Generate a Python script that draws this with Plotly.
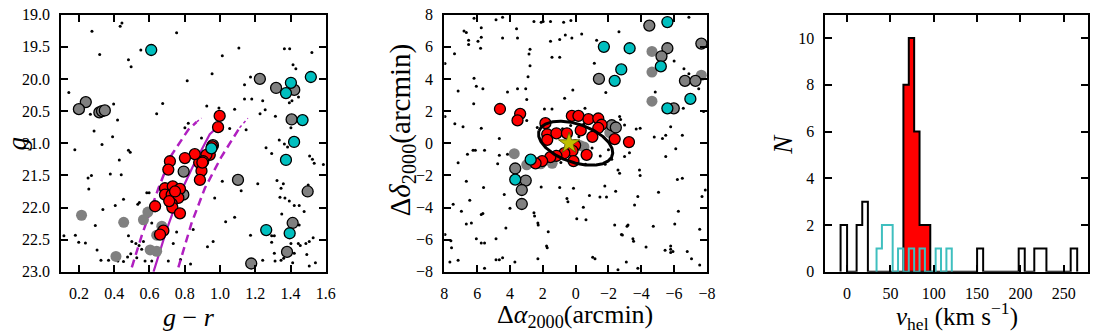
import numpy as np
import plotly.graph_objects as go

FONT = "Liberation Serif"
RED = "#ff0000"
CYAN = "#00bfbf"
GRAY = "#808080"
PURPLE = "#b01fc0"

# ---------------- Panel 1: colour-magnitude diagram ----------------
cmd_red_gr = [0.998, 0.989, 0.955, 0.942, 0.923, 0.905, 0.882, 0.857, 0.801, 0.716, 0.707, 0.895, 0.886,
              0.688, 0.732, 0.773, 0.688, 0.726, 0.764, 0.726, 0.730, 0.773, 0.632, 0.679, 0.660, 0.900,
              0.745, 0.712]
cmd_red_g = [20.575, 20.75, 21.05, 21.18, 21.18, 21.28, 21.30, 21.17, 21.23, 21.28, 21.41, 21.43, 21.57,
             21.70, 21.67, 21.71, 21.80, 21.80, 21.85, 21.94, 22.00, 22.09, 21.98, 22.36, 22.42, 21.30,
             21.75, 21.90]

cmd_cyan_gr = [0.610, 1.515, 1.402, 1.374, 1.468, 1.420, 1.374, 0.951, 1.262, 1.395]
cmd_cyan_g = [19.55, 19.97, 20.06, 20.22, 20.64, 20.98, 21.26, 21.08, 22.35, 22.40]

cmd_gray_gr = [1.226, 1.318, 1.421, 0.239, 0.200, 0.316, 0.331, 0.347, 1.406, 0.794, 1.102, 1.497,
               1.412, 1.380, 1.177, 0.792, 0.960]
cmd_gray_g = [20.00, 20.14, 20.17, 20.36, 20.47, 20.52, 20.50, 20.49, 20.63, 21.44, 21.57, 21.75,
              22.24, 22.69, 22.87, 21.80, 21.03]

cmd_faint_gr = [0.215, 0.454, 0.566, 0.591, 0.410, 0.604, 0.641, 0.670, 0.641]
cmd_faint_g = [22.12, 22.23, 22.19, 22.07, 22.76, 22.66, 22.68, 22.29, 22.43]

cmd_dot_gr = [0.444, 0.434, 0.274, 0.754, 0.551, 0.318, 1.013, 1.107, 1.365, 1.395, 1.521, 0.481, 0.496,
              0.955, 0.814, 0.143, 1.139, 1.173, 1.414, 1.430, 1.139, 1.180, 1.242, 0.675, 0.397, 0.265,
              0.419, 0.641, 0.925, 0.994, 1.083, 1.227, 1.256, 1.314, 1.393, 1.408, 1.445, 0.286, 0.391,
              0.331, 0.820, 0.801, 1.055, 1.148, 0.895, 1.261, 1.336, 1.365, 1.383, 1.402, 1.415,
              0.177, 0.481, 0.491, 0.252, 0.271, 0.429, 0.378, 0.440, 0.256, 0.336, 0.406, 0.453, 0.534,
              0.543, 0.585, 0.598, 0.293, 0.199, 0.237, 0.180, 0.115, 0.303, 0.325, 0.368, 0.421, 0.453,
              0.476, 0.481, 0.500, 0.523, 0.541, 0.566, 0.556, 0.494, 0.528, 0.575, 0.613, 0.613, 0.613,
              0.735, 0.754, 0.707, 0.776, 0.833, 0.848, 0.929, 0.961, 1.013, 0.970, 1.032, 1.083, 1.120,
              1.214, 1.173, 1.242, 1.256, 1.293, 1.308, 1.312, 1.346, 1.361, 1.346, 1.359, 1.293, 1.323,
              1.340, 1.368, 1.421, 1.449, 1.477, 1.500, 1.508, 1.524, 1.534, 1.393, 1.350, 1.449, 1.455,
              1.444, 1.487, 1.506, 1.528, 1.541, 1.506, 1.492, 1.402, 1.293, 1.308, 1.421, 1.412, 1.586]
cmd_dot_g = [19.13, 19.18, 19.26, 19.28, 19.55, 19.62, 19.64, 19.52, 19.53, 19.53, 19.59, 19.70, 19.81,
             19.92, 20.03, 20.21, 20.09, 19.97, 19.78, 19.84, 20.31, 20.31, 20.34, 20.38, 20.39, 20.55,
             20.64, 20.54, 20.42, 20.45, 20.47, 20.54, 20.48, 20.58, 20.37, 20.34, 20.28, 20.81, 20.90,
             21.02, 20.69, 20.76, 20.77, 20.79, 20.92, 21.07, 20.95, 21.01, 21.06, 20.76, 20.91,
             21.10, 21.11, 21.14, 21.54, 21.50, 21.26, 21.48, 21.49, 21.71, 22.03, 21.97, 21.87, 21.95,
             21.92, 21.77, 21.77, 22.28, 22.54, 22.55, 22.43, 22.44, 22.66, 22.82, 22.82, 22.83, 22.84,
             22.77, 22.44, 22.53, 22.56, 22.59, 22.53, 22.65, 22.72, 22.78, 22.83, 22.83, 22.24, 22.07,
             22.56, 22.38, 22.83, 22.81, 22.88, 22.34, 22.61, 22.53, 21.59, 21.85, 22.22, 22.15, 21.74,
             21.63, 22.43, 22.82, 22.32, 22.54, 22.71, 22.83, 22.82, 22.79, 21.70, 21.63, 21.16, 21.58,
             21.84, 21.85, 21.97, 21.97, 22.06, 21.65, 21.20, 21.25, 21.31, 21.90, 22.10, 22.27, 22.59,
             22.56, 22.56, 22.53, 22.47, 22.86, 22.91, 22.73, 22.56, 22.44, 22.44, 22.71, 22.86, 21.33]

# isochrone and its selection window
iso_gr = [0.623, 0.698, 0.764, 0.848, 0.942, 0.970]
iso_g = [23.0, 22.34, 21.84, 21.35, 20.86, 20.79]
win_lo_gr = [0.500, 0.557, 0.651, 0.726, 0.820, 0.867]
win_lo_g = [22.93, 22.43, 21.70, 21.18, 20.79, 20.67]
win_lo_tip_gr = [0.867, 0.895]
win_lo_tip_g = [20.67, 20.61]
win_hi_gr = [0.764, 0.839, 0.914, 1.008, 1.111]
win_hi_g = [22.93, 22.24, 21.70, 21.21, 20.76]
win_hi_tip_gr = [1.111, 1.158]
win_hi_tip_g = [20.76, 20.61]

# ---------------- Panel 2: spatial distribution ----------------
sky_red_dx = [4.61, 3.38, 3.54, 1.84, 1.73, 1.73, 1.17, 0.53, 0.23, -0.17, -0.78, -1.38, -1.58, -1.38,
              -0.31, -1.02, -2.38, -3.25, 0.03, 0.19, 0.69, 1.17, 1.54, 2.04, 2.44, 0.13, -0.67]
sky_red_dy = [2.13, 1.83, 1.42, 1.25, 0.56, 0.21, 0.62, 0.62, 1.70, 1.70, 1.50, 1.54, 1.15, 0.95,
              0.80, 0.40, 0.26, 0.07, -0.13, -0.47, -0.62, -0.78, -0.86, -1.11, -1.25, -1.11, -0.72]

sky_cyan_dx = [-5.59, -1.72, -3.29, -2.78, -2.38, -5.19, -5.59, -6.99, 2.74, 3.68]
sky_cyan_dy = [7.54, 6.00, 5.91, 4.59, 3.88, 4.78, 2.17, 2.76, -1.02, -2.26]

sky_gray_dx = [-4.49, -5.59, -5.23, -7.66, -1.42, -6.66, -7.30, -5.98, 3.68, 3.04, 3.28, 3.28, -2.20, -2.45]
sky_gray_dy = [7.32, 5.91, 5.41, 6.20, 4.00, 3.88, 3.88, 2.17, -1.57, -2.32, -2.91, -3.78, 1.12, 0.98]

sky_faint_dx = [-4.65, -4.65, -4.65, -7.66, 3.74, 2.98, 2.13, 1.43, -0.26, -0.51, -2.08]
sky_faint_dy = [5.71, 4.43, 2.62, 4.23, -0.65, -1.34, -1.28, -1.25, -0.14, -0.23, 0.66]

sky_dot_dx = [6.19, 4.45, 4.85, 2.54, 2.10, 1.98, 1.53, 0.73, 0.29, 5.75, 3.60, 6.80, 6.66, -2.64, -6.90,
              6.52, 6.52, 5.95, 5.75, 4.45, 3.54, 5.79, 1.53, 0.97, 0.63, 0.23, -0.37, -1.28, 7.38, 7.96,
              2.78, 2.84, 1.44, 0.97, 2.78, 2.90, 6.19, 5.65, 6.05, 7.16, 4.15, 3.54, 3.04, 2.98, 6.21,
              0.17, 0.67, -1.14, -1.84, -2.64, -5.13, -6.00, -6.60, -6.90, -7.50, -4.85, -6.10, -6.56,
              -7.80, 7.96, 7.36, 6.86, 5.75, 4.65, 2.98, 2.34, 1.90, 1.44, -0.57, -2.68, -2.74, -2.98,
              -3.69, -3.93, -4.79, -5.29, -5.49, -5.79, -6.50,
              6.59, 6.25, 6.11, 5.55, 4.65, 4.15, 7.16, 4.75, 6.66, 5.61, 6.45, 7.46, 6.96, 5.75, 5.65,
              6.66, 6.35, 4.35, 4.00, 4.25, 4.85, 6.05, 5.75, 5.55, 7.60, 7.96, 7.56, 7.66, 7.16, 5.55,
              4.85, 4.65, 4.45, 3.70, 2.54, 2.50, 2.30, 2.28, 1.67, 1.77, 1.73, 2.30, 2.10, 0.97, 0.53,
              0.47, 0.13, -0.07, -0.47, -0.63, -0.84, -1.48, -1.88, -1.78, -2.44, -2.58, -2.68, -2.98,
              -3.28, -3.89, -3.93, -3.79, -3.59, -3.19, -3.13, -2.79, -2.85, -2.38, -3.49, -3.53, -4.29,
              -4.73, -5.05, -5.45, -5.79, -5.79, -5.93, -5.79, -5.49, -6.10, -6.20, -6.50, -6.26, -6.04,
              -6.80, -7.06, -7.56, -7.70, -7.90, -2.58, -3.79, -3.09, -1.18, -1.04, -7.56,
              0.80, -0.50, -1.00, -1.50, -2.00, 0.50, 1.20, -0.20, -2.20, -1.80, 0.90, -0.60, 1.60,
              -2.50, -1.20, 0.30]
sky_dot_dy = [7.78, 7.83, 7.68, 7.58, 7.52, 7.58, 7.58, 7.52, 7.64, 7.19, 7.13, 6.99, 6.89, 6.93, 7.83,
              6.40, 6.14, 6.34, 6.59, 6.54, 6.54, 5.91, 6.34, 6.46, 6.73, 6.54, 6.79, 6.40, 5.57, 4.96,
              5.85, 5.55, 5.35, 5.35, 4.82, 4.13, 4.04, 3.39, 3.54, 3.25, 3.19, 3.39, 3.39, 2.72, 2.46,
              3.31, 2.80, 4.98, 3.15, 4.63, 5.41, 5.12, 4.63, 4.33, 3.39, 3.19, 2.26, 2.17,
              1.97, 1.67, 1.22, 1.02, 0.94, 0.30, 1.42, 0.98, 2.13, 2.13, 2.17, 1.67, 1.48, 1.14,
              0.89, 0.94, 0.39, 0.30, 0.49, 1.02, 0.49,
              -0.69, -0.43, -0.43, -0.43, -0.75, -0.69, -1.22, -1.28, -2.36, -2.76, -3.54, -3.80, -4.23,
              -4.43, -4.37, -5.02, -4.96, -3.19, -4.04, -5.28, -5.94, -5.94, -6.20, -6.20, -6.06, -5.67,
              -6.50, -7.38, -7.28, -7.78, -7.24, -7.24, -7.13, -7.38, -4.33, -4.53, -4.96, -5.08, -5.51,
              -6.40, -6.50, -7.19, -2.72, -2.76, -3.44, -3.64, -2.80, -4.69, -3.98, -4.76, -3.25, -3.35,
              -3.35, -2.66, -2.99, -1.67, -1.87, -0.83, -0.59, -1.67, -2.01, -3.31, -3.84, -5.08, -5.16,
              -5.67, -5.71, -5.08, -5.94, -6.10, -6.46, -5.16, -3.05, -6.65, -6.59, -6.79, -6.73, -6.40,
              -0.83, -0.35, -2.26, -2.17, -4.23, -5.02, -6.73, -7.19, -5.35, -3.31, -2.91, -7.87, -7.78,
              -7.38, -7.19, -7.09, -7.58,
              0.90, 1.20, -0.30, -0.80, -0.40, -0.30, -0.50, 0.40, -1.00, -1.30, -1.20, -1.30, 0.00,
              0.10, 0.70, 1.10]

centre_dx = [0.40]
centre_dy = [0.00]
ell_a = 2.36      # semi-major axis (arcmin)
ell_b = 1.19      # semi-minor axis (arcmin)
ell_tilt = 19.5   # degrees

# ---------------- Panel 3: velocity histograms ----------------
hist_red_left = [65.0, 71.2, 77.4, 83.6, 89.8]
hist_red_right = [71.2, 77.4, 83.6, 89.8, 96.0]
hist_red_n = [8, 10, 6, 2, 2]

hist_cyan_left = [34.0, 40.2, 46.4, 58.8, 71.2, 83.6, 102.2, 114.6]
hist_cyan_right = [40.2, 46.4, 52.6, 65.0, 77.4, 89.8, 108.4, 120.8]
hist_cyan_n = [1, 2, 2, 1, 1, 1, 1, 1]

hist_black_left = [-7.5, 11.0, 17.5, 150.0, 198.0, 216.0, 223.0, 258.0]
hist_black_right = [0.0, 17.5, 24.0, 157.0, 205.0, 223.0, 230.0, 265.5]
hist_black_n = [2, 2, 3, 1, 1, 1, 1, 1]


def step_outline(left, right, counts):
    xs, ys = [left[0]], [0]
    for i, (l, r, c) in enumerate(zip(left, right, counts)):
        if i > 0 and abs(l - right[i - 1]) > 1e-9:
            xs += [right[i - 1], l]
            ys += [0, 0]
        xs += [l, r]
        ys += [c, c]
    xs.append(right[-1])
    ys.append(0)
    return xs, ys


fig = go.Figure()

# ---- panel 1 traces
fig.add_trace(go.Scatter(x=cmd_dot_gr, y=cmd_dot_g, mode="markers",
                         marker=dict(size=3, color="black"), xaxis="x", yaxis="y"))
fig.add_trace(go.Scatter(x=iso_gr, y=iso_g, mode="lines", line=dict(color=PURPLE, width=2.2),
                         xaxis="x", yaxis="y"))
for gx, gy in [(win_lo_gr, win_lo_g), (win_hi_gr, win_hi_g)]:
    fig.add_trace(go.Scatter(x=gx, y=gy, mode="lines",
                             line=dict(color=PURPLE, width=2.5, dash="8px,5px"), xaxis="x", yaxis="y"))
for gx, gy in [(win_lo_tip_gr, win_lo_tip_g), (win_hi_tip_gr, win_hi_tip_g)]:
    fig.add_trace(go.Scatter(x=gx, y=gy, mode="lines",
                             line=dict(color=PURPLE, width=1.5, dash="dot"), xaxis="x", yaxis="y"))
fig.add_trace(go.Scatter(x=cmd_faint_gr, y=cmd_faint_g, mode="markers",
                         marker=dict(size=11, color=GRAY, line=dict(width=0)), xaxis="x", yaxis="y"))
fig.add_trace(go.Scatter(x=cmd_gray_gr, y=cmd_gray_g, mode="markers",
                         marker=dict(size=11, color=GRAY, line=dict(width=1.3, color="black")),
                         xaxis="x", yaxis="y"))
fig.add_trace(go.Scatter(x=cmd_red_gr, y=cmd_red_g, mode="markers",
                         marker=dict(size=11, color=RED, line=dict(width=1.3, color="black")),
                         xaxis="x", yaxis="y"))
fig.add_trace(go.Scatter(x=cmd_cyan_gr, y=cmd_cyan_g, mode="markers",
                         marker=dict(size=11, color=CYAN, line=dict(width=1.3, color="black")),
                         xaxis="x", yaxis="y"))

# ---- panel 2 traces
fig.add_trace(go.Scatter(x=sky_dot_dx, y=sky_dot_dy, mode="markers",
                         marker=dict(size=3, color="black"), xaxis="x2", yaxis="y2"))
fig.add_trace(go.Scatter(x=sky_faint_dx, y=sky_faint_dy, mode="markers",
                         marker=dict(size=11, color=GRAY, line=dict(width=0)), xaxis="x2", yaxis="y2"))
fig.add_trace(go.Scatter(x=sky_gray_dx, y=sky_gray_dy, mode="markers",
                         marker=dict(size=11, color=GRAY, line=dict(width=1.3, color="black")),
                         xaxis="x2", yaxis="y2"))
fig.add_trace(go.Scatter(x=sky_red_dx, y=sky_red_dy, mode="markers",
                         marker=dict(size=11, color=RED, line=dict(width=1.3, color="black")),
                         xaxis="x2", yaxis="y2"))
fig.add_trace(go.Scatter(x=sky_cyan_dx, y=sky_cyan_dy, mode="markers",
                         marker=dict(size=11, color=CYAN, line=dict(width=1.3, color="black")),
                         xaxis="x2", yaxis="y2"))
t = np.linspace(0, 2 * np.pi, 241)
ph = np.deg2rad(ell_tilt)
ex = ell_a * np.cos(t) * np.cos(ph) - ell_b * np.sin(t) * np.sin(ph)
ey = ell_a * np.cos(t) * np.sin(ph) + ell_b * np.sin(t) * np.cos(ph)
fig.add_trace(go.Scatter(x=ex, y=ey, mode="lines", line=dict(color="black", width=3),
                         xaxis="x2", yaxis="y2"))
fig.add_trace(go.Scatter(x=centre_dx, y=centre_dy, mode="markers",
                         marker=dict(symbol="star", size=16, color="#bfbf00",
                                     line=dict(width=0.8, color="#555500")),
                         xaxis="x2", yaxis="y2"))

# ---- panel 3 traces
rx, ry = step_outline(hist_red_left, hist_red_right, hist_red_n)
fig.add_trace(go.Scatter(x=rx, y=ry, mode="lines", fill="toself", fillcolor=RED,
                         line=dict(color="black", width=2), xaxis="x3", yaxis="y3"))
bx, by = step_outline(hist_black_left, hist_black_right, hist_black_n)
fig.add_trace(go.Scatter(x=bx, y=by, mode="lines", line=dict(color="black", width=2),
                         xaxis="x3", yaxis="y3"))
cx, cy = step_outline(hist_cyan_left, hist_cyan_right, hist_cyan_n)
fig.add_trace(go.Scatter(x=cx, y=cy, mode="lines", line=dict(color="#3fbfbf", width=2),
                         xaxis="x3", yaxis="y3"))

# ---- axes
common = dict(showline=True, linewidth=2, linecolor="black", mirror="ticks", ticks="inside",
              ticklen=7, tickwidth=1.8, tickcolor="black", showgrid=False, zeroline=False,
              tickfont=dict(family=FONT, size=16, color="black"), ticklabelstandoff=6,
              ticklabeloverflow="allow")

ydom = [56 / 334, 327 / 334]

cmd_xticks = [0.2, 0.4, 0.6, 0.8, 1.0, 1.2, 1.4, 1.6]
cmd_yticks = [19.0, 19.5, 20.0, 20.5, 21.0, 21.5, 22.0, 22.5, 23.0]
sky_ticks = [-8, -6, -4, -2, 0, 2, 4, 6, 8]
vel_xticks = [0, 50, 100, 150, 200, 250]
vel_yticks = [0, 2, 4, 6, 8, 10]

EPS = 1e-4


def lab(v, fmt):
    s = format(v, fmt)
    return s.replace("-", "\u2212")


fig.update_layout(
    width=1100, height=334, margin=dict(l=0, r=0, t=0, b=0),
    paper_bgcolor="white", plot_bgcolor="white", showlegend=False,
    font=dict(family=FONT, color="black"),
    xaxis=dict(domain=[58 / 1100, 326 / 1100], range=[0.1, 1.6 + EPS], anchor="y",
               tickvals=cmd_xticks, ticktext=[lab(v, ".1f") for v in cmd_xticks], **common),
    yaxis=dict(domain=ydom, range=[23.0 + EPS, 19.0 - EPS], anchor="x",
               tickvals=cmd_yticks, ticktext=[lab(v, ".1f") for v in cmd_yticks], **common),
    xaxis2=dict(domain=[446 / 1100, 712 / 1100], range=[8 + EPS, -8 - EPS], anchor="y2",
                tickvals=sky_ticks, ticktext=[lab(v, "d") for v in sky_ticks], **common),
    yaxis2=dict(domain=ydom, range=[-8 - EPS, 8 + EPS], anchor="x2",
                tickvals=sky_ticks, ticktext=[lab(v, "d") for v in sky_ticks], **common),
    xaxis3=dict(domain=[832 / 1100, 1098 / 1100], range=[-25, 278], anchor="y3",
                tickvals=vel_xticks, ticktext=[lab(v, "d") for v in vel_xticks], **common),
    yaxis3=dict(domain=ydom, range=[0 - EPS, 11], anchor="x3",
                tickvals=vel_yticks, ticktext=[lab(v, "d") for v in vel_yticks], **common),
)


def ann(text, px, py, size, angle=0):
    fig.add_annotation(text=text, x=px / 1100, y=1 - py / 334, xref="paper", yref="paper",
                       xanchor="center", yanchor="middle", showarrow=False, textangle=angle,
                       font=dict(family=FONT, size=size, color="black"))


ann("<i>g</i>", 13, 143, 27, -90)
ann("<i>g</i> \u2212 <i>r</i>", 187, 326, 26)
ann("\u0394<i>\u03b4</i><sub>2000</sub>(arcmin)", 404, 128, 29, -90)
ann("\u0394<i>\u03b1</i><sub>2000</sub>(arcmin)", 578, 324, 26)
ann("<i>N</i>", 789, 143, 27, -90)
ann("<i>v</i><sub>hel</sub> (km s<sup>\u22121</sup>)", 965, 324, 25)

fig.write_html("out.html")
